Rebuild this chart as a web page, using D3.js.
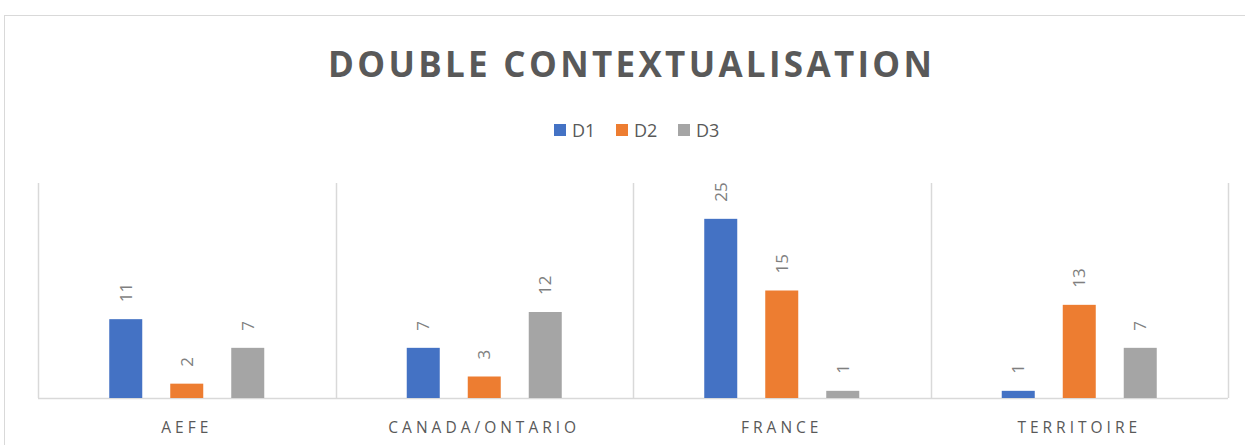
<!DOCTYPE html>
<html>
<head>
<meta charset="utf-8">
<script src="https://cdn.jsdelivr.net/npm/d3@7"></script>
<style>
  body { margin: 0; background: #fff; }
  svg { display: block; font-family: "Open Sans", "DejaVu Sans", sans-serif; }
</style>
</head>
<body>
<div id="chart"></div>
<script>
// data
const categories = ["AEFE", "CANADA/ONTARIO", "FRANCE", "TERRITOIRE"];
const seriesNames = ["D1", "D2", "D3"];
const d1 = [11, 7, 25, 1];
const d2 = [2, 3, 15, 13];
const d3v = [7, 12, 1, 7];
const colors = ["#4472c4", "#ed7d31", "#a5a5a5"];
const title = "DOUBLE CONTEXTUALISATION";

const W = 1245, H = 445;
const plot = {left: 38, right: 1228, top: 183, bottom: 398};

const svg = d3.select("#chart").append("svg")
    .attr("width", W).attr("height", H);

// outer chart border
svg.append("rect")
    .attr("x", 4.5).attr("y", 15.5)
    .attr("width", 1300).attr("height", 500)
    .attr("fill", "#fff").attr("stroke", "#d9d9d9");

// title
svg.append("text")
    .attr("x", 328).attr("y", 77)
    .attr("textLength", 604).attr("lengthAdjust", "spacing")
    .attr("font-size", 35).attr("font-weight", 700)
    .attr("fill", "#595959")
    .text(title);

// legend
const legend = svg.append("g").attr("transform", "translate(554,124)");
seriesNames.forEach(function(s, i) {
  const g = legend.append("g").attr("transform", "translate(" + (i * 62) + ",0)");
  g.append("rect").attr("width", 12).attr("height", 12).attr("fill", colors[i]);
  g.append("text").attr("x", 18).attr("y", 13)
    .attr("font-size", 18).attr("fill", "#595959").text(s);
});

// scales
const x0 = d3.scaleBand().domain(categories).range([plot.left, plot.right]).padding(0);
const cw = x0.bandwidth();
const x1 = d3.scaleBand().domain(seriesNames)
    .range([cw / 2 - 91.5, cw / 2 + 91.5])
    .paddingInner(28 / 61).paddingOuter(14 / 61);
const y = d3.scaleLinear().domain([0, 30]).range([plot.bottom, plot.top]);

// vertical category separators
const seps = categories.map(c => x0(c)).concat([plot.right]);
svg.append("g").selectAll("line").data(seps).enter().append("line")
    .attr("x1", d => Math.round(d) + 0.5).attr("x2", d => Math.round(d) + 0.5)
    .attr("y1", plot.top).attr("y2", plot.bottom)
    .attr("stroke", "#d9d9d9").attr("stroke-width", 1.5);

// baseline
svg.append("line")
    .attr("x1", plot.left).attr("x2", plot.right)
    .attr("y1", plot.bottom + 0.5).attr("y2", plot.bottom + 0.5)
    .attr("stroke", "#d9d9d9").attr("stroke-width", 1.5);

// bars
const rows = categories.map(function(c, i) {
  return {cat: c, values: [d1[i], d2[i], d3v[i]]};
});
const groups = svg.append("g").selectAll("g").data(rows).enter().append("g")
    .attr("transform", d => "translate(" + x0(d.cat) + ",0)");

groups.selectAll("rect")
    .data(d => d.values.map((v, j) => ({s: seriesNames[j], v: v, j: j})))
    .enter().append("rect")
    .attr("x", d => x1(d.s))
    .attr("width", x1.bandwidth())
    .attr("y", d => y(d.v))
    .attr("height", d => y(0) - y(d.v))
    .attr("fill", d => colors[d.j]);

// value labels, rotated
groups.selectAll("text")
    .data(d => d.values.map((v, j) => ({s: seriesNames[j], v: v})))
    .enter().append("text")
    .attr("transform", d => "translate(" + (x1(d.s) + x1.bandwidth() / 2) + "," + (y(d.v) - 17) + ") rotate(-90)")
    .attr("dy", "0.35em")
    .attr("font-size", 17).attr("fill", "#7f7f7f")
    .text(d => d.v);

// category axis labels
const xAxis = d3.axisBottom(x0).tickSize(0).tickPadding(0);
const ax = svg.append("g").attr("transform", "translate(0,433)").call(xAxis);
ax.select(".domain").remove();
ax.selectAll("text")
    .attr("dy", 0)
    .attr("font-family", "Open Sans, sans-serif")
    .attr("font-size", 15.5)
    .attr("letter-spacing", "4px")
    .attr("fill", "#595959");
</script>
</body>
</html>
